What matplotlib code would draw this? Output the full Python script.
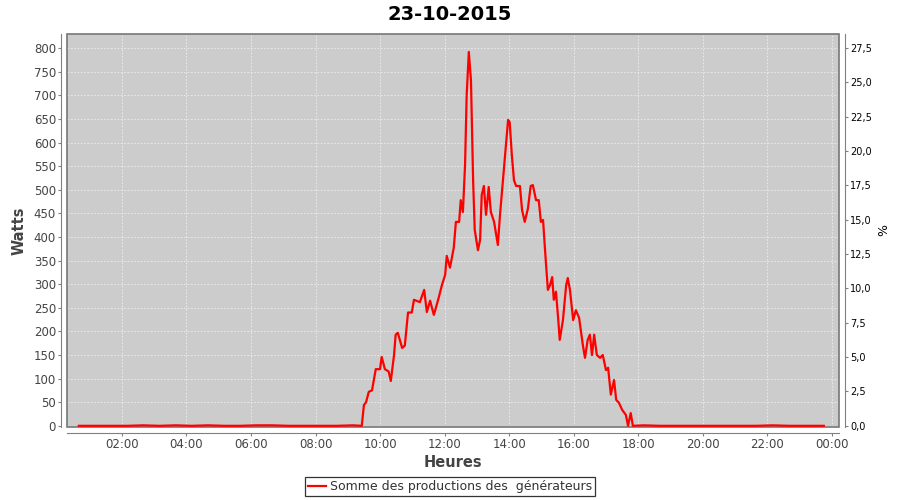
import numpy as np
import matplotlib
matplotlib.use("Agg")
import matplotlib.pyplot as plt
from matplotlib.ticker import FuncFormatter, MultipleLocator
from matplotlib.patches import Rectangle

# production readings (heure, watts)
night_am_times = ["00:40", "01:10", "01:40", "02:10", "02:40", "03:10", "03:40", "04:10",
                  "04:40", "05:10", "05:40", "06:10", "06:40", "07:10", "07:40", "08:10",
                  "08:40", "09:10", "09:26"]
night_am_watts = [0, 0, 0, 0, 1, 0, 1, 0, 1, 0, 0, 1, 1, 0, 0, 0, 0, 1, 0]

day_times = ["09:30", "09:34", "09:39", "09:45", "09:52", "10:00", "10:03", "10:09", "10:16",
             "10:20", "10:26", "10:29", "10:33", "10:41", "10:46", "10:52", "10:59", "11:03",
             "11:14", "11:22", "11:27", "11:33", "11:40", "11:48", "11:55", "12:01", "12:04",
             "12:10", "12:17", "12:21", "12:27", "12:30", "12:34", "12:38", "12:41", "12:45",
             "12:49", "12:53", "12:56", "13:02", "13:06", "13:09", "13:13", "13:17", "13:22",
             "13:26", "13:32", "13:39", "13:43", "13:50", "13:58", "14:01", "14:05", "14:09",
             "14:13", "14:20", "14:24", "14:29", "14:35", "14:40", "14:44", "14:50", "14:55",
             "14:59", "15:03", "15:08", "15:12", "15:16", "15:20", "15:23", "15:27", "15:31",
             "15:34", "15:40", "15:46", "15:49", "15:53", "15:59", "16:04", "16:10", "16:17",
             "16:21", "16:26", "16:30", "16:34", "16:38", "16:43", "16:49", "16:54", "17:00",
             "17:04", "17:09", "17:15", "17:19", "17:24", "17:30", "17:37", "17:41", "17:46",
             "17:50"]
day_watts = [44, 50, 72, 75, 120, 120, 146, 120, 115,
             95, 150, 193, 197, 165, 170, 240, 240, 267,
             262, 288, 241, 265, 235, 267, 298, 320, 360,
             335, 377, 432, 432, 478, 453, 552, 700, 792,
             732, 520, 415, 372, 394, 489, 508, 447, 506,
             453, 432, 383, 447, 542, 648, 643, 573, 520,
             508, 508, 457, 432, 461, 508, 510, 478, 478,
             432, 436, 351, 288, 298, 315, 267, 284, 229,
             182, 224, 298, 313, 288, 224, 245, 229, 171,
             144, 182, 193, 150, 193, 150, 144, 150, 118,
             123, 66, 97, 55, 49, 34, 23, 0, 27,
             0]

night_pm_times = ["18:10", "18:40", "19:10", "19:40", "20:10", "20:40", "21:10", "21:40",
                  "22:10", "22:40", "23:10", "23:45"]
night_pm_watts = [1, 0, 0, 0, 0, 0, 0, 0, 1, 0, 0, 0]

watts_per_percent = 800 / 27.5


def to_hours(hhmm):
    h, m = hhmm.split(":")
    return int(h) + int(m) / 60


times = [to_hours(t) for t in night_am_times + day_times + night_pm_times]
watts = night_am_watts + day_watts + night_pm_watts

y_lo, y_hi = -2.5, 830

fig = plt.figure(figsize=(9, 5), dpi=100)
ax = fig.add_axes([67 / 900, 1 - 427 / 500, 772 / 900, 393 / 500])
ax.set_facecolor("#cccccc")

ax.plot(times, watts, color="#ff0000", linewidth=1.6, zorder=6,
        label="Somme des productions des  générateurs")

ax.set_xlim(0.30, 24.22)
ax.set_ylim(y_lo, y_hi)
ax.xaxis.set_major_locator(MultipleLocator(2))
ax.xaxis.set_major_formatter(FuncFormatter(lambda v, p: "%02d:00" % (int(round(v)) % 24)))
ax.yaxis.set_major_locator(MultipleLocator(50))
ax.grid(True, color="#eeeeee", linestyle=(0, (2, 2)), linewidth=0.6)
ax.set_axisbelow(True)

gray = "#444444"
for side in ["left", "bottom"]:
    ax.spines[side].set_position(("outward", 4))
    ax.spines[side].set_color("#808080")
for side in ["top", "right"]:
    ax.spines[side].set_visible(False)
ax.add_patch(Rectangle((0, 0), 1, 1, transform=ax.transAxes, fill=False,
                       edgecolor="#777777", linewidth=1.2, zorder=5, clip_on=False))
ax.tick_params(axis="both", colors="#808080", labelcolor=gray, labelsize=8.5,
               length=2, width=0.8, pad=2)

ax.set_ylabel("Watts", fontsize=10.5, fontweight="bold", color=gray, labelpad=5)
ax.set_xlabel("Heures", fontsize=10.5, fontweight="bold", color=gray, labelpad=3)

ax2 = ax.twinx()
ax2.set_ylim(y_lo / watts_per_percent, y_hi / watts_per_percent)
ax2.yaxis.set_major_locator(MultipleLocator(2.5))
ax2.yaxis.set_major_formatter(FuncFormatter(lambda v, p: ("%.1f" % v).replace(".", ",")))
for side in ["left", "top", "bottom"]:
    ax2.spines[side].set_visible(False)
ax2.spines["right"].set_position(("outward", 4))
ax2.spines["right"].set_color("#808080")
ax2.tick_params(axis="y", colors="#808080", labelcolor="black", labelsize=7,
                length=2, width=0.8, pad=2)
ax2.set_ylabel("%", fontsize=9, color="black", labelpad=4)

fig.suptitle("23-10-2015", x=0.5, y=0.99, fontsize=14, fontweight="bold")

leg = fig.legend(loc="lower center", bbox_to_anchor=(0.5, 0.003), fontsize=9,
                 frameon=True, fancybox=False, edgecolor="black", handlelength=1.5,
                 handletextpad=0.3, borderpad=0.25, borderaxespad=0.2)
leg.get_frame().set_linewidth(0.9)
for text in leg.get_texts():
    text.set_color("#333333")

fig.savefig("out.png", dpi=100)
